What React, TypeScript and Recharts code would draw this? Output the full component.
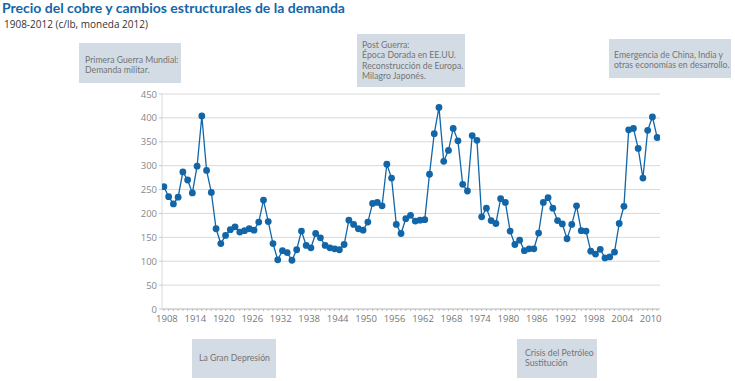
import React from "react";
import { LineChart, Line, XAxis, YAxis, CartesianGrid } from "recharts";

const years: number[] = [
  1908, 1909, 1910, 1911, 1912, 1913, 1914, 1915, 1916, 1917,
  1918, 1919, 1920, 1921, 1922, 1923, 1924, 1925, 1926, 1927,
  1928, 1929, 1930, 1931, 1932, 1933, 1934, 1935, 1936, 1937,
  1938, 1939, 1940, 1941, 1942, 1943, 1944, 1945, 1946, 1947,
  1948, 1949, 1950, 1951, 1952, 1953, 1954, 1955, 1956, 1957,
  1958, 1959, 1960, 1961, 1962, 1963, 1964, 1965, 1966, 1967,
  1968, 1969, 1970, 1971, 1972, 1973, 1974, 1975, 1976, 1977,
  1978, 1979, 1980, 1981, 1982, 1983, 1984, 1985, 1986, 1987,
  1988, 1989, 1990, 1991, 1992, 1993, 1994, 1995, 1996, 1997,
  1998, 1999, 2000, 2001, 2002, 2003, 2004, 2005, 2006, 2007,
  2008, 2009, 2010, 2011, 2012,
];

const prices: number[] = [
  256, 235, 220, 234, 287, 270, 243, 299, 404, 290,
  244, 168, 137, 154, 166, 172, 161, 164, 168, 165,
  182, 228, 183, 137, 103, 122, 118, 102, 124, 163,
  133, 128, 158, 149, 133, 128, 126, 124, 135, 186,
  177, 168, 165, 182, 221, 223, 216, 303, 274, 177,
  158, 189, 196, 184, 186, 187, 282, 367, 422, 309,
  332, 378, 352, 261, 247, 363, 353, 193, 211, 185,
  179, 231, 223, 163, 135, 144, 122, 126, 126, 159,
  223, 233, 211, 185, 178, 147, 177, 216, 164, 163,
  121, 115, 125, 107, 109, 119, 179, 215, 375, 378,
  336, 274, 374, 402, 359,
];

const xTickLabels: number[] = [
  1908, 1914, 1920, 1926, 1932, 1938, 1944, 1950, 1956, 1962,
  1968, 1974, 1980, 1986, 1992, 1998, 2004, 2010,
];

const yTicks: number[] = [0, 50, 100, 150, 200, 250, 300, 350, 400, 450];

const data = years.map((y, i) => ({ year: y, price: prices[i] }));

const FONT = "'Open Sans', 'Noto Sans', sans-serif";
const NARROW = "Lato, 'Open Sans', sans-serif";
const BLUE = "#1266a8";

const XTick = (props: any) => {
  const { x, y, payload } = props;
  if (!xTickLabels.includes(payload.value)) return null;
  return (
    <text x={x + 3} y={y + 9} textAnchor="middle" fontSize={9.5} fill="#777" fontFamily={FONT}>
      {payload.value}
    </text>
  );
};

const YTick = (props: any) => {
  const { x, y, payload } = props;
  return (
    <text x={x} y={y + 3.5} textAnchor="end" fontSize={9.5} fill="#888" fontFamily={FONT}>
      {payload.value}
    </text>
  );
};

const boxStyle: React.CSSProperties = {
  position: "absolute",
  background: "#d3dce5",
  color: "#747474",
  fontFamily: NARROW,
  fontSize: 8.7,
  lineHeight: "10.4px",
  boxSizing: "border-box",
  whiteSpace: "nowrap",
};

export default function App() {
  return (
    <div style={{ position: "absolute", left: 0, top: 0, width: 735, height: 381, background: "#fff", overflow: "hidden" }}>
      <div style={{ position: "absolute", left: 2, top: -1, fontFamily: NARROW, fontWeight: 700, fontSize: 14, color: BLUE, whiteSpace: "nowrap" }}>
        Precio del cobre y cambios estructurales de la demanda
      </div>
      <div style={{ position: "absolute", left: 4, top: 17, fontFamily: FONT, fontSize: 10, color: "#333", whiteSpace: "nowrap" }}>
        1908-2012 (c/lb, moneda 2012)
      </div>

      <div style={{ position: "absolute", left: 0, top: 0 }}>
        <LineChart width={735} height={381} data={data} margin={{ top: 94, right: 75, bottom: 42, left: 122 }}>
          <CartesianGrid vertical={false} stroke="#d9d9d9" strokeWidth={1} />
          <XAxis
            dataKey="year"
            type="number"
            domain={[1907.6, 2012.6]}
            ticks={years}
            interval={0}
            allowDataOverflow
            height={30}
            tick={<XTick />}
            tickSize={2}
            tickLine={{ stroke: "#bbb" }}
            axisLine={{ stroke: "#c8c8c8" }}
          />
          <YAxis
            type="number"
            domain={[0, 450]}
            ticks={yTicks}
            interval={0}
            width={40}
            tick={<YTick />}
            tickSize={3}
            tickLine={{ stroke: "#c8c8c8" }}
            axisLine={{ stroke: "#d9d9d9" }}
          />
          <Line
            dataKey="price"
            type="linear"
            stroke={BLUE}
            strokeWidth={1.3}
            dot={{ r: 3.4, fill: BLUE, stroke: BLUE, strokeWidth: 0 }}
            activeDot={false}
            isAnimationActive={false}
          />
        </LineChart>
      </div>

      <div style={{ ...boxStyle, left: 79, top: 43, width: 102, height: 40, paddingLeft: 6, paddingTop: 12 }}>
        Primera Guerra Mundial:<br />Demanda militar.
      </div>
      <div style={{ ...boxStyle, left: 357, top: 34, width: 108, height: 53, paddingLeft: 5, paddingTop: 6 }}>
        Post Guerra:<br />Época Dorada en EE.UU.<br />Reconstrucción de Europa.<br />Milagro Japonés.
      </div>
      <div style={{ ...boxStyle, left: 609, top: 39, width: 122, height: 39, paddingLeft: 5, paddingTop: 11 }}>
        Emergencia de China, India y<br />otras economías en desarrollo.
      </div>
      <div style={{ ...boxStyle, left: 192, top: 339, width: 84, height: 39, paddingLeft: 7, paddingTop: 14 }}>
        La Gran Depresión
      </div>
      <div style={{ ...boxStyle, left: 517, top: 339, width: 80, height: 39, paddingLeft: 8, paddingTop: 9 }}>
        Crisis del Petróleo<br />Sustitución
      </div>
    </div>
  );
}
